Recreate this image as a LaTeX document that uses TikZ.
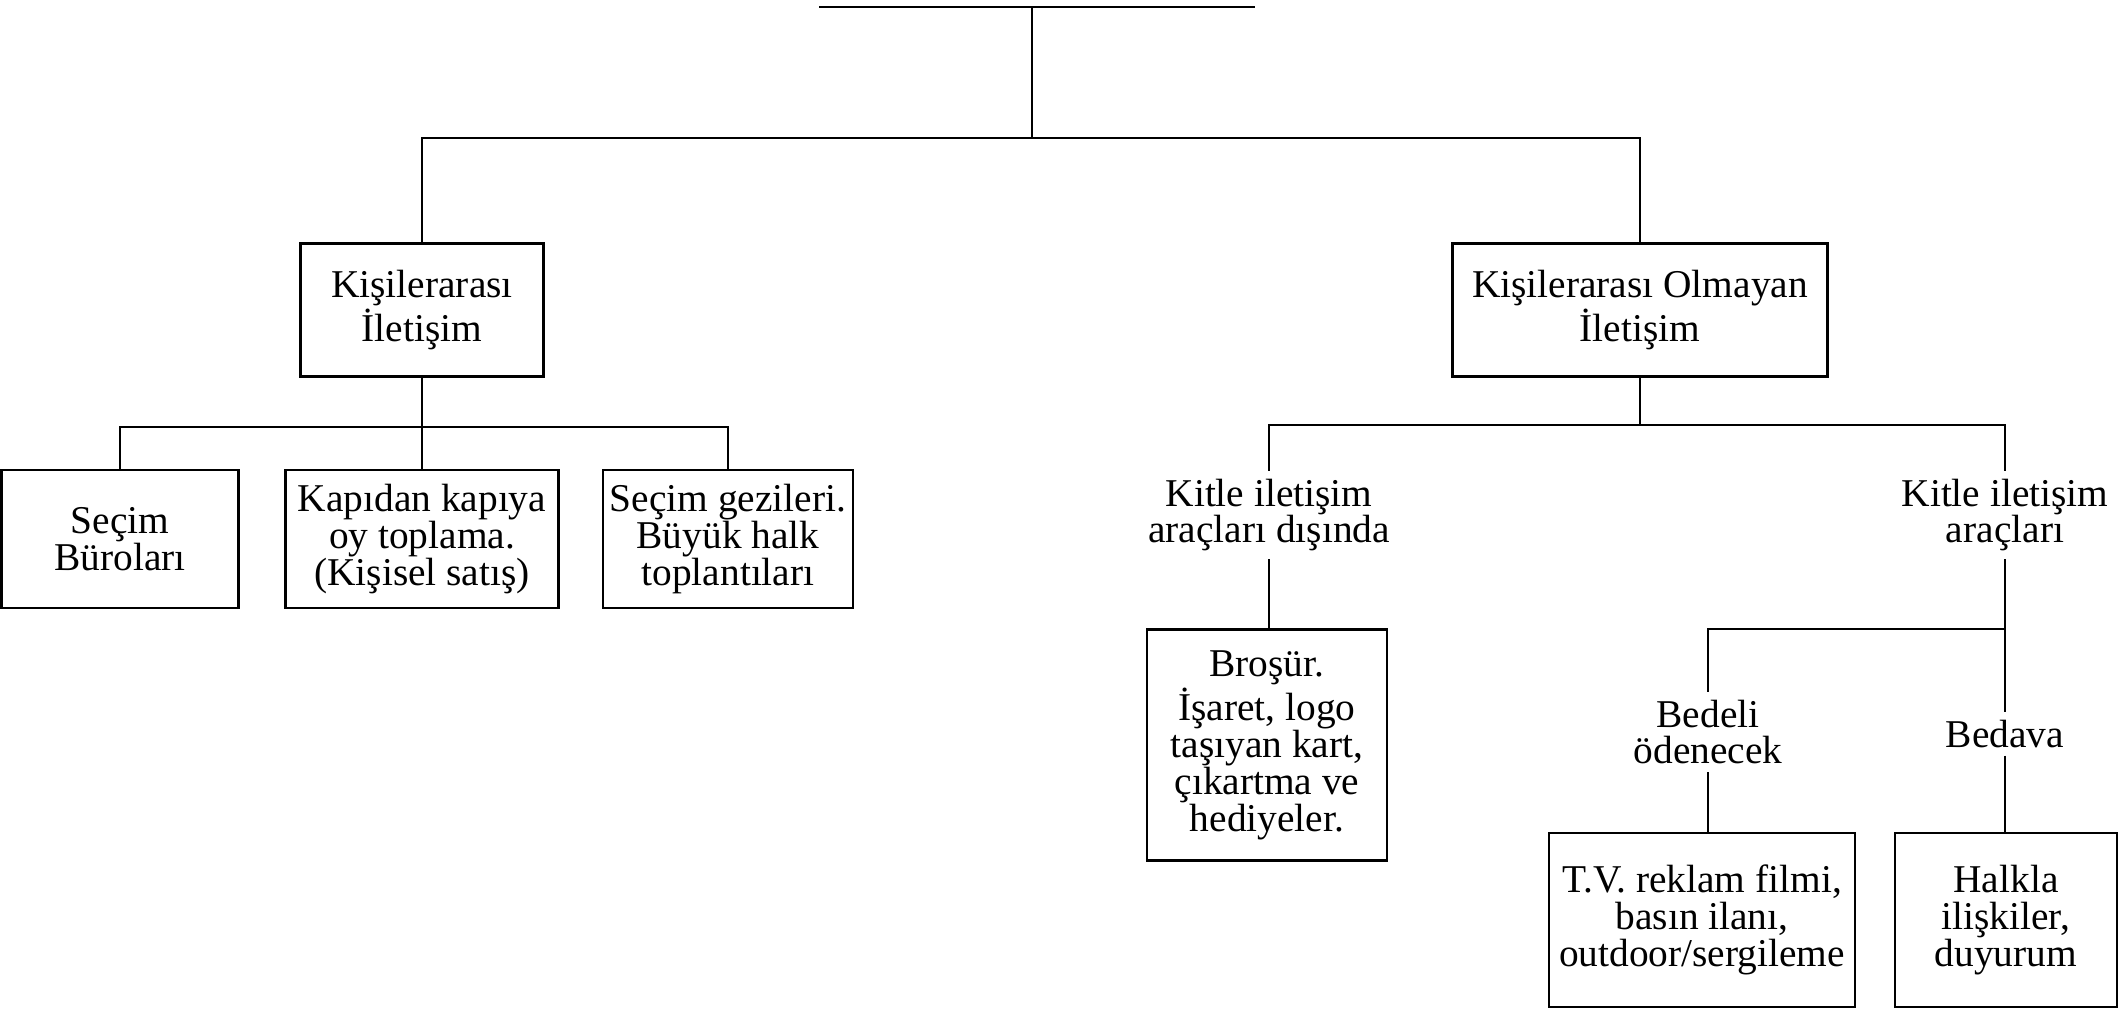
\documentclass[tikz,border=0pt]{standalone}
\usepackage{fontspec}
\setmainfont{Liberation Serif}
\usetikzlibrary{positioning}

\begin{document}
\begin{tikzpicture}[x=0.01cm, y=-0.01cm]
	
	% Define the styles for the boxes, the free texts and the tree lines
	\tikzset{
		frame box/.style={draw, line width=0.7pt, align=center, inner sep=2pt,
			font=\fontsize{11.2}{10.5}\selectfont},
		plain text/.style={align=center, inner sep=2pt,
			font=\fontsize{11.2}{10.5}\selectfont},
		tree line/.style={line width=0.7pt}
	}
	\useasboundingbox (0,0) rectangle (2120,1009);
	
	% Top of the cut root box
	\coordinate (rootleft) at (819,7);
	\coordinate (rootright) at (1255,7);
	\coordinate (rootmid) at (1032,7);
	\coordinate (splitone) at (1032,138);
	\draw[tree line] (rootleft) -- (rootright);
	\draw[tree line] (rootmid) -- (splitone);
	
	% First level boxes
	\node[frame box, minimum width=2.43cm, minimum height=1.33cm] (kisi) at (422,310) {Kişilerarası\\İletişim};
	\node[frame box, minimum width=3.75cm, minimum height=1.33cm] (olmayan) at (1640,310) {Kişilerarası Olmayan\\İletişim};
	\draw[tree line] (kisi.north) |- (splitone) -| (olmayan.north);
	
	% Left branch
	\coordinate (splitleft) at (422,427);
	\node[frame box, minimum width=2.37cm, minimum height=1.38cm] (buro) at (120,539) {Seçim\\Büroları};
	\node[frame box, minimum width=2.73cm, minimum height=1.38cm] (kapi) at (422,539) {Kapıdan kapıya\\oy toplama.\\(Kişisel satış)};
	\node[frame box, minimum width=2.49cm, minimum height=1.38cm] (gezi) at (728,539) {Seçim gezileri.\\Büyük halk\\toplantıları};
	\draw[tree line] (kisi.south) -- (kapi.north);
	\draw[tree line] (buro.north) |- (splitleft) -| (gezi.north);
	
	% Right branch
	\coordinate (splitright) at (1640,425);
	\node[plain text] (disinda) at (1269,515) {Kitle iletişim\\araçları dışında};
	\node[plain text] (kitle) at (2005,515) {Kitle iletişim\\araçları};
	\draw[tree line] (olmayan.south) -- (splitright);
	\draw[tree line] (disinda.north) |- (splitright) -| (kitle.north);
	
	\node[frame box, minimum width=2.40cm, minimum height=2.31cm] (brosur) at (1267,745) {Broşür.\\İşaret, logo\\taşıyan kart,\\çıkartma ve\\hediyeler.};
	\draw[tree line] (disinda.south) -- (disinda.south |- brosur.north);
	
	% Mass media: paid and free
	\coordinate (splitmedia) at (2005,629);
	\node[plain text] (bedeli) at (1708,732) {Bedeli\\ödenecek};
	\node[plain text] (bedava) at (2005,734) {Bedava};
	\draw[tree line] (kitle.south) -- (bedava.north);
	\draw[tree line] (bedeli.north) |- (splitmedia);
	
	\node[frame box, minimum width=3.06cm, minimum height=1.74cm] (tv) at (1702,920) {T.V. reklam filmi,\\basın ilanı,\\outdoor/sergileme};
	\node[frame box, minimum width=2.22cm, minimum height=1.74cm] (halkla) at (2006,920) {Halkla\\ilişkiler,\\duyurum};
	\draw[tree line] (bedeli.south) -- (bedeli.south |- tv.north);
	\draw[tree line] (bedava.south) -- (bedava.south |- halkla.north);
	
\end{tikzpicture}
\end{document}
